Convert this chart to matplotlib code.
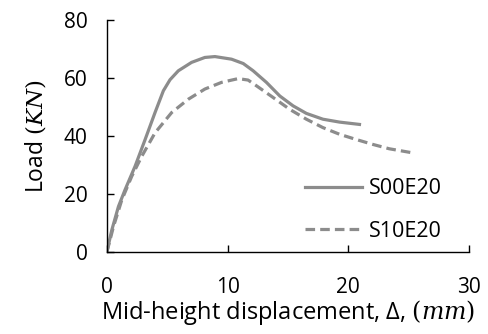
import numpy as np
import matplotlib.pyplot as plt

plt.rcParams['font.family'] = ['Open Sans', 'DejaVu Sans']
plt.rcParams['mathtext.fontset'] = 'dejavuserif'

# load-displacement curves (mm, kN)
disp_s00 = [0, 0.41, 0.96, 1.51, 2.34, 3.17, 3.99, 4.68, 5.23, 5.92, 7.02, 8.12, 8.95,
            10.33, 11.3, 12.12, 13.22, 14.33, 15.43, 16.53, 17.9, 19.28, 20.93]
load_s00 = [0, 7.6, 15.7, 21.5, 29.6, 38.8, 48.1, 55.6, 59.4, 62.5, 65.4, 67.1, 67.4,
            66.5, 65.0, 62.5, 58.5, 53.8, 50.4, 47.8, 45.8, 44.8, 44.0]

disp_s10 = [0, 0.55, 1.24, 2.06, 2.89, 3.99, 5.37, 6.75, 8.12, 9.5, 10.88, 11.7,
            12.4, 13.77, 15.15, 16.53, 17.9, 19.28, 20.66, 22.04, 23.4, 25.33]
load_s10 = [0, 8.8, 18.0, 26.1, 33.0, 41.1, 48.1, 52.7, 56.2, 58.5, 59.8, 59.3,
            57.3, 53.3, 49.2, 45.8, 42.9, 40.6, 38.8, 37.1, 35.6, 34.2]

gray = '#8c8c8c'

fig = plt.figure(figsize=(4.88, 3.34), dpi=100)
ax = fig.add_axes([0.219, 0.2455, 0.742, 0.6945])

ax.plot(disp_s00, load_s00, color=gray, lw=2.3, label='S00E20')
ax.plot(disp_s10, load_s10, color=gray, lw=2.3, ls=(0, (3, 1.6)), label='S10E20')

ax.set_xlim(0, 30)
ax.set_ylim(0, 80)
ax.set_xticks([0, 10, 20, 30])
ax.set_yticks([0, 20, 40, 60, 80])
ax.tick_params(direction='in', length=5, width=1, labelsize=15)
ax.tick_params(axis='y', pad=14)
ax.tick_params(axis='x', pad=18)
for s in ['top', 'right']:
    ax.spines[s].set_visible(False)
for s in ['left', 'bottom']:
    ax.spines[s].set_linewidth(1)

ax.set_ylabel('Load $(KN)$', fontsize=16.5, labelpad=11)
ax.set_xlabel(r'Mid-height displacement, Δ, $(mm)$', fontsize=17, labelpad=0)

ax.legend(loc='lower right', bbox_to_anchor=(0.978, -0.04), frameon=False, fontsize=15.5,
          handlelength=2.65, handletextpad=0.3, labelspacing=1.0)

fig.savefig('out.png', dpi=100)
